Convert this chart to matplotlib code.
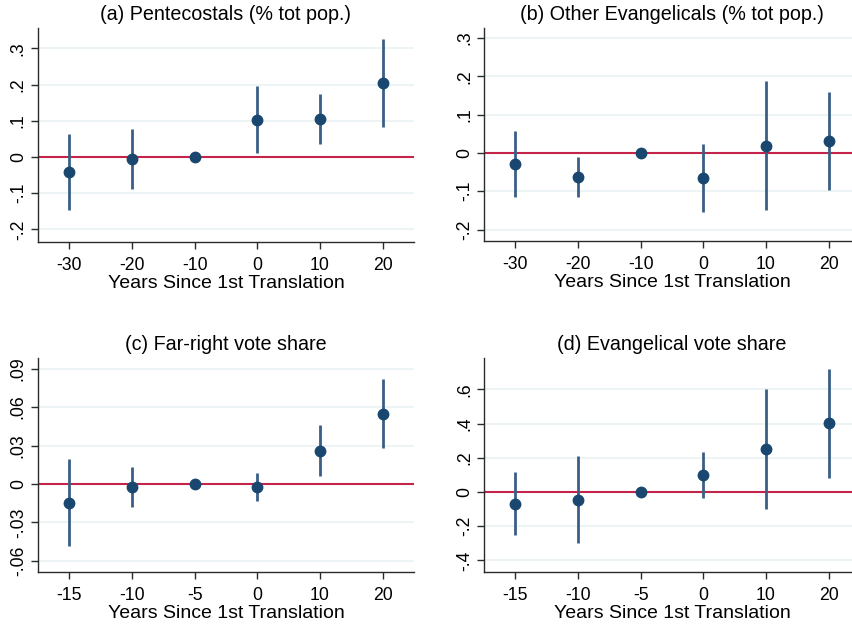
import matplotlib
matplotlib.use("Agg")
import matplotlib.pyplot as plt
import numpy as np

plt.rcParams['font.family'] = ['Liberation Sans', 'DejaVu Sans']

# panel (a) Pentecostals
a_labels = ['-30', '-20', '-10', '0', '10', '20']
a_coef = [-0.0405, -0.0055, 0.0, 0.103, 0.106, 0.204]
a_lo = [-0.1455, -0.088, 0.0, 0.011, 0.037, 0.082]
a_hi = [0.0635, 0.078, 0.0, 0.195, 0.175, 0.327]

# panel (b) Other Evangelicals
b_labels = ['-30', '-20', '-10', '0', '10', '20']
b_coef = [-0.029, -0.063, 0.0, -0.065, 0.019, 0.031]
b_lo = [-0.115, -0.115, 0.0, -0.153, -0.150, -0.097]
b_hi = [0.057, -0.010, 0.0, 0.024, 0.187, 0.159]

# panel (c) Far-right vote share
c_labels = ['-15', '-10', '-5', '0', '10', '20']
c_coef = [-0.0146, -0.0026, 0.0, -0.0026, 0.0261, 0.055]
c_lo = [-0.0483, -0.0183, 0.0, -0.0133, 0.0063, 0.0284]
c_hi = [0.0193, 0.0136, 0.0, 0.0083, 0.0464, 0.0819]

# panel (d) Evangelical vote share
d_labels = ['-15', '-10', '-5', '0', '10', '20']
d_coef = [-0.068, -0.049, 0.0, 0.0996, 0.25, 0.404]
d_lo = [-0.254, -0.299, 0.0, -0.035, -0.10, 0.084]
d_hi = [0.119, 0.209, 0.0, 0.234, 0.60, 0.721]

a_ticks = [-0.2, -0.1, 0, 0.1, 0.2, 0.3]
a_ticklabels = ['-.2', '-.1', '0', '.1', '.2', '.3']
c_ticks = [-0.06, -0.03, 0, 0.03, 0.06, 0.09]
c_ticklabels = ['-.06', '-.03', '0', '.03', '.06', '.09']
d_ticks = [-0.4, -0.2, 0, 0.2, 0.4, 0.6]
d_ticklabels = ['-.4', '-.2', '0', '.2', '.4', '.6']

navy = '#1a476f'
ci_col = '#3a5f86'
red = '#c4244a'
grid_col = '#eaf2f3'
axis_col = '#2b2b2b'

fig = plt.figure(figsize=(8.53, 6.28), dpi=100)
fig.patch.set_facecolor('white')

panels = [
    ([0.0445, 0.6146, 0.4408, 0.3408], '(a) Pentecostals (% tot pop.)', a_labels, a_coef, a_lo, a_hi,
     a_ticks, a_ticklabels, (-0.235, 0.356)),
    ([0.5674, 0.6162, 0.4408, 0.3392], '(b) Other Evangelicals (% tot pop.)', b_labels, b_coef, b_lo, b_hi,
     a_ticks, a_ticklabels, (-0.23, 0.326)),
    ([0.0445, 0.0892, 0.4408, 0.3408], '(c) Far-right vote share', c_labels, c_coef, c_lo, c_hi,
     c_ticks, c_ticklabels, (-0.0687, 0.0984)),
    ([0.5674, 0.0892, 0.4408, 0.3408], '(d) Evangelical vote share', d_labels, d_coef, d_lo, d_hi,
     d_ticks, d_ticklabels, (-0.468, 0.784)),
]

for pos, title, labels, coef, lo, hi, yt, ytl, ylim in panels:
    ax = fig.add_axes(pos)
    x = np.arange(len(labels))
    for t in yt:
        ax.axhline(t, color=grid_col, lw=1.2, zorder=0)
    ax.axhline(0, color=red, lw=1.5, zorder=1)
    ax.vlines(x, lo, hi, color=ci_col, lw=2, zorder=2)
    ax.plot(x, coef, 'o', color=navy, ms=7.5, zorder=3)

    ax.set_xlim(-0.5, 5.5)
    ax.set_ylim(*ylim)
    ax.set_xticks(x)
    ax.set_xticklabels(labels, fontsize=12.7)
    ax.set_yticks(yt)
    ax.set_yticklabels(ytl, fontsize=12.7, rotation=90, va='center')
    ax.tick_params(axis='x', direction='out', length=5, width=1, color=axis_col, pad=6)
    ax.tick_params(axis='y', direction='out', length=5, width=1, color=axis_col, pad=3)
    ax.set_xlabel('Years Since 1st Translation', fontsize=14, labelpad=0.5)
    ax.set_title(title, fontsize=14.2, pad=6)

    for s in ['top', 'right']:
        ax.spines[s].set_visible(False)
    for s in ['left', 'bottom']:
        ax.spines[s].set_color(axis_col)
        ax.spines[s].set_linewidth(1)

fig.savefig('out.png', dpi=100, facecolor='white')
